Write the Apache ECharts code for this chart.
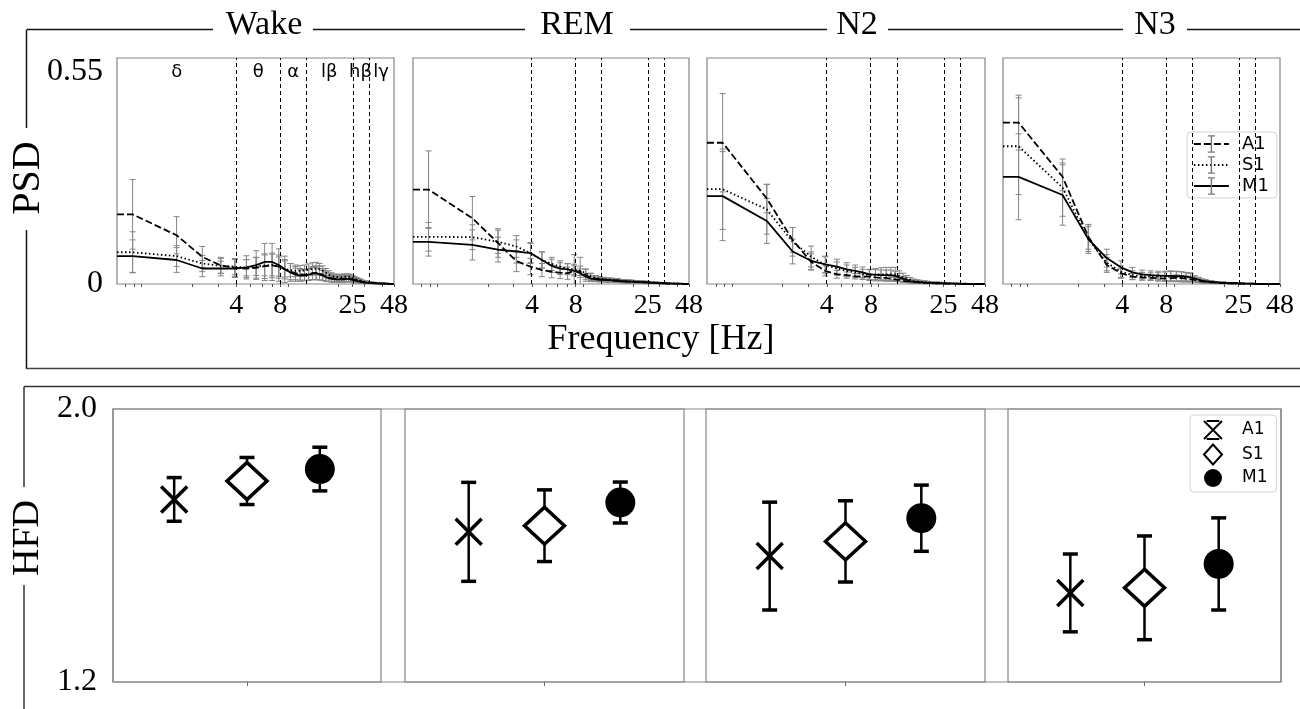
<!DOCTYPE html>
<html><head><meta charset="utf-8">
<script src="https://cdn.jsdelivr.net/npm/echarts@6/dist/echarts.min.js"></script>
<style>html,body{margin:0;padding:0;background:#fff}#c{width:1300px;height:709px}</style>
</head><body><div id="c"></div>
<script>
// ---------------- data ----------------
const stages = ['Wake', 'REM', 'N2', 'N3'];
const groups = ['A1', 'S1', 'M1'];
const freqs = [0.78,1.56,2.34,3.13,3.91,4.69,5.47,6.25,7.03,7.81,
  8.59,9.38,10.16,10.94,11.72,12.5,13.28,14.06,14.84,15.63,
  16.41,17.19,17.97,18.75,19.53,20.31,21.09,21.88,22.66,23.44,
  24.22,25.0,25.78,26.56,27.34,28.13,28.91,29.69,30.47,31.25,
  32.03,32.81,33.59,34.38,35.16,35.94,36.72,37.5,38.28,39.06,
  39.84,40.63,41.41,42.19,42.97,43.75,44.53,45.31,46.09,46.88,47.66];
const xTickLabels = [4, 8, 25, 48];
const xMinorTicks = [0.7, 0.8, 0.9, 2, 3, 4, 5, 6, 7, 8, 9, 20, 25, 30, 40, 48];
const psdTickLabels = [0, 0.55];
const hfdTickLabels = [1.2, 2.0];
const bandNames = ['δ', 'θ', 'α', 'lβ', 'hβ', 'lγ'];
const bandBounds = [0.61, 4, 8, 12, 25, 32, 48];
const bandEdges = [4, 8, 12, 25, 32];

const wakeA1 = [0.180,0.126,0.070,0.048,0.042,0.040,0.042,0.046,0.048,0.045,
 0.038,0.032,0.028,0.025,0.024,0.025,0.028,0.029,0.028,0.024,
 0.020,0.017,0.015,0.014,0.013,0.013,0.013,0.013,0.014,0.014,
 0.013,0.012,0.011,0.010,0.008,0.007,0.006,0.005,0.005,0.004,
 0.004,0.003,0.003,0.003,0.002,0.002,0.002,0.002,0.002,0.001,
 0.001,0.001,0.001,0.001,0.001,0.001,0.001,0.000,0.000,0.000,0.000];
const wakeA1sd = [0.090,0.048,0.027,0.021,0.023,0.023,0.027,0.032,0.032,0.030,
 0.025,0.021,0.017,0.015,0.014,0.015,0.017,0.018,0.017,0.015,
 0.013,0.011,0.010,0.009,0.008,0.008,0.008,0.008,0.008,0.008,
 0.007,0.007,0.006,0.005,0.005,0.004,0.004,0.003,0.003,0.003,
 0.002,0.002,0.002,0.002,0.001,0.001,0.001,0.001,0.001,0.001,
 0.001,0.001,0.001,0.001,0.000,0.000,0.000,0.000,0.000,0.000,0.000];
const wakeS1 = [0.082,0.072,0.053,0.047,0.045,0.042,0.045,0.048,0.049,0.045,
 0.039,0.036,0.034,0.034,0.035,0.037,0.039,0.040,0.038,0.034,
 0.029,0.024,0.021,0.019,0.018,0.018,0.018,0.019,0.019,0.019,
 0.018,0.016,0.014,0.012,0.011,0.009,0.007,0.006,0.005,0.005,
 0.004,0.004,0.003,0.003,0.003,0.002,0.002,0.002,0.002,0.001,
 0.001,0.001,0.001,0.001,0.001,0.001,0.001,0.001,0.000,0.000,0.000];
const wakeS1sd = [0.053,0.027,0.021,0.019,0.021,0.021,0.023,0.027,0.028,0.025,
 0.021,0.017,0.015,0.014,0.014,0.015,0.016,0.016,0.015,0.013,
 0.011,0.010,0.008,0.007,0.007,0.007,0.007,0.007,0.007,0.007,
 0.007,0.006,0.005,0.005,0.004,0.004,0.003,0.003,0.002,0.002,
 0.002,0.002,0.001,0.001,0.001,0.001,0.001,0.001,0.001,0.001,
 0.000,0.000,0.000,0.000,0.000,0.000,0.000,0.000,0.000,0.000,0.000];
const wakeM1 = [0.072,0.062,0.040,0.040,0.040,0.043,0.049,0.057,0.057,0.049,
 0.038,0.030,0.024,0.022,0.022,0.024,0.027,0.028,0.025,0.022,
 0.018,0.015,0.013,0.012,0.012,0.012,0.012,0.012,0.013,0.013,
 0.012,0.011,0.010,0.008,0.007,0.006,0.005,0.004,0.004,0.003,
 0.003,0.003,0.002,0.002,0.002,0.002,0.001,0.001,0.001,0.001,
 0.001,0.001,0.001,0.001,0.000,0.000,0.000,0.000,0.000,0.000,0.000];
const wakeM1sd = [0.042,0.032,0.021,0.019,0.023,0.030,0.037,0.048,0.048,0.042,
 0.034,0.023,0.017,0.015,0.014,0.015,0.016,0.016,0.015,0.013,
 0.011,0.008,0.007,0.006,0.006,0.006,0.006,0.006,0.007,0.007,
 0.006,0.006,0.005,0.004,0.004,0.003,0.003,0.002,0.002,0.002,
 0.002,0.002,0.001,0.001,0.001,0.001,0.001,0.001,0.001,0.000,
 0.000,0.000,0.000,0.000,0.000,0.000,0.000,0.000,0.000,0.000,0.000];

const remA1 = [0.244,0.170,0.106,0.059,0.045,0.036,0.032,0.029,0.028,0.034,
 0.032,0.023,0.017,0.014,0.012,0.011,0.010,0.010,0.009,0.009,
 0.007,0.007,0.006,0.006,0.006,0.005,0.005,0.005,0.005,0.004,
 0.004,0.004,0.004,0.003,0.003,0.003,0.003,0.002,0.002,0.002,
 0.002,0.002,0.002,0.001,0.001,0.001,0.001,0.001,0.001,0.001,
 0.001,0.001,0.001,0.000,0.000,0.000,0.000,0.000,0.000,0.000,0.000];
const remA1sd = [0.100,0.056,0.037,0.027,0.021,0.017,0.016,0.015,0.016,0.042,
 0.037,0.016,0.011,0.008,0.007,0.006,0.006,0.005,0.005,0.005,
 0.004,0.004,0.004,0.004,0.003,0.003,0.003,0.003,0.003,0.003,
 0.002,0.002,0.002,0.002,0.002,0.002,0.002,0.001,0.001,0.001,
 0.001,0.001,0.001,0.001,0.001,0.001,0.001,0.000,0.000,0.000,
 0.000,0.000,0.000,0.000,0.000,0.000,0.000,0.000,0.000,0.000,0.000];
const remS1 = [0.122,0.121,0.109,0.097,0.080,0.062,0.052,0.045,0.040,0.038,
 0.034,0.028,0.020,0.016,0.014,0.012,0.011,0.011,0.010,0.010,
 0.008,0.008,0.007,0.007,0.007,0.006,0.006,0.006,0.005,0.005,
 0.005,0.005,0.004,0.004,0.004,0.003,0.003,0.003,0.003,0.002,
 0.002,0.002,0.002,0.002,0.001,0.001,0.001,0.001,0.001,0.001,
 0.001,0.001,0.001,0.001,0.000,0.000,0.000,0.000,0.000,0.000,0.000];
const remS1sd = [0.037,0.032,0.030,0.028,0.025,0.021,0.017,0.015,0.013,0.013,
 0.012,0.010,0.007,0.006,0.005,0.005,0.004,0.004,0.004,0.004,
 0.003,0.003,0.003,0.003,0.003,0.003,0.002,0.002,0.002,0.002,
 0.002,0.002,0.002,0.002,0.002,0.001,0.001,0.001,0.001,0.001,
 0.001,0.001,0.001,0.001,0.001,0.000,0.000,0.000,0.000,0.000,
 0.000,0.000,0.000,0.000,0.000,0.000,0.000,0.000,0.000,0.000,0.000];
const remM1 = [0.109,0.101,0.089,0.084,0.080,0.062,0.047,0.040,0.038,0.034,
 0.028,0.019,0.014,0.012,0.011,0.011,0.010,0.010,0.008,0.008,
 0.007,0.007,0.007,0.006,0.006,0.006,0.005,0.005,0.005,0.005,
 0.004,0.004,0.004,0.003,0.003,0.003,0.003,0.002,0.002,0.002,
 0.002,0.002,0.002,0.001,0.001,0.001,0.001,0.001,0.001,0.001,
 0.001,0.001,0.001,0.001,0.000,0.000,0.000,0.000,0.000,0.000,0.000];
const remM1sd = [0.037,0.039,0.032,0.030,0.027,0.021,0.017,0.015,0.014,0.013,
 0.011,0.007,0.005,0.005,0.004,0.004,0.004,0.004,0.003,0.003,
 0.003,0.003,0.003,0.003,0.002,0.002,0.002,0.002,0.002,0.002,
 0.002,0.002,0.002,0.001,0.001,0.001,0.001,0.001,0.001,0.001,
 0.001,0.001,0.001,0.000,0.000,0.000,0.000,0.000,0.000,0.000,
 0.000,0.000,0.000,0.000,0.000,0.000,0.000,0.000,0.000,0.000,0.000];

const n2A1 = [0.365,0.221,0.114,0.057,0.034,0.025,0.023,0.020,0.019,0.019,
 0.017,0.016,0.016,0.014,0.012,0.011,0.008,0.007,0.006,0.005,
 0.005,0.004,0.004,0.003,0.003,0.003,0.003,0.002,0.002,0.002,
 0.002,0.002,0.002,0.001,0.001,0.001,0.001,0.001,0.001,0.001,
 0.001,0.001,0.001,0.001,0.001,0.000,0.000,0.000,0.000,0.000,
 0.000,0.000,0.000,0.000,0.000,0.000,0.000,0.000,0.000,0.000,0.000];
const n2A1sd = [0.127,0.037,0.032,0.021,0.013,0.010,0.008,0.007,0.007,0.007,
 0.007,0.006,0.006,0.006,0.005,0.005,0.004,0.003,0.003,0.003,
 0.002,0.002,0.002,0.002,0.002,0.001,0.001,0.001,0.001,0.001,
 0.001,0.001,0.001,0.001,0.001,0.001,0.000,0.000,0.000,0.000,
 0.000,0.000,0.000,0.000,0.000,0.000,0.000,0.000,0.000,0.000,
 0.000,0.000,0.000,0.000,0.000,0.000,0.000,0.000,0.000,0.000,0.000];
const n2S1 = [0.245,0.193,0.109,0.071,0.049,0.040,0.034,0.030,0.025,0.023,
 0.024,0.025,0.025,0.025,0.025,0.020,0.017,0.014,0.011,0.008,
 0.007,0.006,0.005,0.005,0.004,0.004,0.003,0.003,0.003,0.003,
 0.002,0.002,0.002,0.002,0.002,0.001,0.001,0.001,0.001,0.001,
 0.001,0.001,0.001,0.001,0.001,0.001,0.000,0.000,0.000,0.000,
 0.000,0.000,0.000,0.000,0.000,0.000,0.000,0.000,0.000,0.000,0.000];
const n2S1sd = [0.104,0.064,0.037,0.027,0.021,0.017,0.015,0.013,0.013,0.014,
 0.016,0.017,0.018,0.018,0.018,0.014,0.011,0.008,0.006,0.005,
 0.004,0.004,0.003,0.003,0.003,0.002,0.002,0.002,0.002,0.002,
 0.001,0.001,0.001,0.001,0.001,0.001,0.001,0.000,0.000,0.000,
 0.000,0.000,0.000,0.000,0.000,0.000,0.000,0.000,0.000,0.000,
 0.000,0.000,0.000,0.000,0.000,0.000,0.000,0.000,0.000,0.000,0.000];
const n2M1 = [0.227,0.163,0.084,0.060,0.051,0.045,0.038,0.034,0.030,0.025,
 0.024,0.023,0.023,0.023,0.021,0.017,0.013,0.011,0.007,0.006,
 0.005,0.004,0.004,0.003,0.003,0.003,0.002,0.002,0.002,0.002,
 0.002,0.001,0.001,0.001,0.001,0.001,0.001,0.001,0.001,0.001,
 0.000,0.000,0.000,0.000,0.000,0.000,0.000,0.000,0.000,0.000,
 0.000,0.000,0.000,0.000,0.000,0.000,0.000,0.000,0.000,0.000,0.000];
const n2M1sd = [0.115,0.058,0.032,0.023,0.021,0.019,0.017,0.015,0.014,0.013,
 0.013,0.013,0.013,0.013,0.012,0.010,0.007,0.006,0.004,0.004,
 0.003,0.003,0.002,0.002,0.002,0.002,0.001,0.001,0.001,0.001,
 0.001,0.001,0.001,0.001,0.000,0.000,0.000,0.000,0.000,0.000,
 0.000,0.000,0.000,0.000,0.000,0.000,0.000,0.000,0.000,0.000,
 0.000,0.000,0.000,0.000,0.000,0.000,0.000,0.000,0.000,0.000,0.000];

const n3A1 = [0.417,0.277,0.122,0.049,0.028,0.019,0.017,0.016,0.015,0.014,
 0.015,0.016,0.015,0.014,0.012,0.011,0.008,0.007,0.006,0.005,
 0.004,0.004,0.003,0.003,0.003,0.003,0.002,0.002,0.002,0.002,
 0.002,0.002,0.001,0.001,0.001,0.001,0.001,0.001,0.001,0.001,
 0.001,0.000,0.000,0.000,0.000,0.000,0.000,0.000,0.000,0.000,
 0.000,0.000,0.000,0.000,0.000,0.000,0.000,0.000,0.000,0.000,0.000];
const n3A1sd = [0.071,0.036,0.032,0.019,0.013,0.008,0.007,0.007,0.007,0.007,
 0.007,0.008,0.007,0.007,0.006,0.005,0.004,0.004,0.003,0.003,
 0.002,0.002,0.002,0.002,0.002,0.001,0.001,0.001,0.001,0.001,
 0.001,0.001,0.001,0.001,0.000,0.000,0.000,0.000,0.000,0.000,
 0.000,0.000,0.000,0.000,0.000,0.000,0.000,0.000,0.000,0.000,
 0.000,0.000,0.000,0.000,0.000,0.000,0.000,0.000,0.000,0.000,0.000];
const n3S1 = [0.356,0.249,0.116,0.055,0.032,0.023,0.020,0.019,0.019,0.019,
 0.019,0.019,0.018,0.017,0.017,0.013,0.011,0.008,0.007,0.006,
 0.005,0.004,0.004,0.003,0.003,0.003,0.002,0.002,0.002,0.002,
 0.002,0.001,0.001,0.001,0.001,0.001,0.001,0.001,0.001,0.001,
 0.000,0.000,0.000,0.000,0.000,0.000,0.000,0.000,0.000,0.000,
 0.000,0.000,0.000,0.000,0.000,0.000,0.000,0.000,0.000,0.000,0.000];
const n3S1sd = [0.125,0.074,0.032,0.021,0.015,0.011,0.010,0.010,0.011,0.012,
 0.013,0.013,0.013,0.012,0.012,0.008,0.006,0.005,0.004,0.003,
 0.003,0.002,0.002,0.002,0.002,0.001,0.001,0.001,0.001,0.001,
 0.001,0.001,0.001,0.000,0.000,0.000,0.000,0.000,0.000,0.000,
 0.000,0.000,0.000,0.000,0.000,0.000,0.000,0.000,0.000,0.000,
 0.000,0.000,0.000,0.000,0.000,0.000,0.000,0.000,0.000,0.000,0.000];
const n3M1 = [0.277,0.230,0.116,0.067,0.043,0.030,0.025,0.023,0.022,0.021,
 0.021,0.020,0.020,0.019,0.017,0.014,0.011,0.008,0.007,0.006,
 0.005,0.004,0.004,0.003,0.003,0.003,0.002,0.002,0.002,0.002,
 0.002,0.001,0.001,0.001,0.001,0.001,0.001,0.001,0.001,0.001,
 0.000,0.000,0.000,0.000,0.000,0.000,0.000,0.000,0.000,0.000,
 0.000,0.000,0.000,0.000,0.000,0.000,0.000,0.000,0.000,0.000,0.000];
const n3M1sd = [0.111,0.078,0.037,0.023,0.017,0.013,0.011,0.011,0.011,0.012,
 0.013,0.013,0.012,0.011,0.010,0.007,0.006,0.005,0.004,0.003,
 0.003,0.002,0.002,0.002,0.002,0.001,0.001,0.001,0.001,0.001,
 0.001,0.001,0.001,0.000,0.000,0.000,0.000,0.000,0.000,0.000,
 0.000,0.000,0.000,0.000,0.000,0.000,0.000,0.000,0.000,0.000,
 0.000,0.000,0.000,0.000,0.000,0.000,0.000,0.000,0.000,0.000,0.000];

// HFD per stage (Wake, REM, N2, N3)
const hfdA1 = [1.735, 1.640, 1.569, 1.461];
const hfdA1Err = [0.064, 0.145, 0.158, 0.114];
const hfdS1 = [1.789, 1.658, 1.612, 1.476];
const hfdS1Err = [0.069, 0.105, 0.119, 0.152];
const hfdM1 = [1.824, 1.726, 1.680, 1.546];
const hfdM1Err = [0.064, 0.060, 0.097, 0.135];
const hfdPos = [-1, 0, 1];

// ---------------- build ----------------
const psdMean = [[wakeA1, wakeS1, wakeM1], [remA1, remS1, remM1], [n2A1, n2S1, n2M1], [n3A1, n3S1, n3M1]];
const psdSd = [[wakeA1sd, wakeS1sd, wakeM1sd], [remA1sd, remS1sd, remM1sd], [n2A1sd, n2S1sd, n2M1sd], [n3A1sd, n3S1sd, n3M1sd]];
const hfdMean = [hfdA1, hfdS1, hfdM1];
const hfdErr = [hfdA1Err, hfdS1Err, hfdM1Err];

const SERIF = "'Liberation Serif','Times New Roman',serif";
const SANS = "'DejaVu Sans',sans-serif";
const lx = f => Math.log10(f);
const X_MIN = 0.61, X_MAX = 48, PSD_MAX = 0.584;
const topBoxes = [[117, 277], [413, 276], [707, 278], [1003, 277]];
const botBoxes = [[113, 268], [405, 279], [706, 279], [1008, 273]];
const dashes = [[7, 3], [1.5, 2.5], 'solid'];
const EB_ICON = 'path://M0,0M10,10M3,0h4v0.7h-4zM4.6,0h0.8v10h-0.8zM3,9.3h4v0.7h-4z';

function errBar(capW, lw, color, capLw) {
  return function (params, api) {
    const x = api.value(0), y = api.value(1), e = api.value(2);
    const a = api.coord([x, y + e]), b = api.coord([x, y - e]);
    const h = capW / 2;
    const st = { stroke: color, lineWidth: lw };
    const cs = { stroke: color, lineWidth: capLw };
    return { type: 'group', children: [
      { type: 'line', shape: { x1: a[0], y1: a[1], x2: b[0], y2: b[1] }, style: st },
      { type: 'line', shape: { x1: a[0] - h, y1: a[1], x2: a[0] + h, y2: a[1] }, style: cs },
      { type: 'line', shape: { x1: b[0] - h, y1: b[1], x2: b[0] + h, y2: b[1] }, style: cs }
    ] };
  };
}

const grid = [], xAxis = [], yAxis = [], series = [];
topBoxes.forEach(([l, w], i) => {
  grid.push({ left: l, top: 58, width: w, height: 226, show: true, borderColor: '#858585', borderWidth: 1.2, containLabel: false, outerBoundsMode: 'none' });
  xAxis.push({ type: 'value', gridIndex: i, min: lx(X_MIN), max: lx(X_MAX),
    axisLine: { show: false }, splitLine: { show: false },
    axisTick: { show: true, customValues: xMinorTicks.map(lx), length: 3, lineStyle: { color: '#555' } },
    axisLabel: { customValues: xTickLabels.map(lx), formatter: v => String(Math.round(Math.pow(10, v))),
      fontFamily: SERIF, fontSize: 28, color: '#000', margin: 8 } });
  yAxis.push({ type: 'value', gridIndex: i, min: 0, max: PSD_MAX,
    axisLine: { show: false }, axisTick: { show: false }, splitLine: { show: false },
    axisLabel: { show: i === 0, customValues: psdTickLabels, formatter: v => (v === 0 ? '0' : v.toFixed(2)),
      fontFamily: SERIF, fontSize: 32, color: '#000', margin: 14 } });
});
botBoxes.forEach(([l, w], i) => {
  grid.push({ left: l, top: 409, width: w, height: 273, show: true, borderColor: '#858585', borderWidth: 1.2, containLabel: false, outerBoundsMode: 'none' });
  xAxis.push({ type: 'value', gridIndex: 4 + i, min: -1.84, max: 1.84,
    axisLine: { show: false }, splitLine: { show: false },
    axisTick: { show: true, customValues: [0], length: 4, lineStyle: { color: '#666' } },
    axisLabel: { show: false } });
  yAxis.push({ type: 'value', gridIndex: 4 + i, min: 1.2, max: 2.0,
    axisLine: { show: false }, axisTick: { show: false }, splitLine: { show: false },
    axisLabel: { show: i === 0, customValues: hfdTickLabels, formatter: v => v.toFixed(1),
      fontFamily: SERIF, fontSize: 32, color: '#000', margin: 16 } });
});
// background frame joining the HFD panels (gap boxes)
grid.push({ left: 113, top: 409, width: 1168, height: 273, show: true, borderColor: '#858585', borderWidth: 1.2, z: 0, containLabel: false, outerBoundsMode: 'none' });
xAxis.push({ type: 'value', gridIndex: 8, show: false, min: 0, max: 1 });
yAxis.push({ type: 'value', gridIndex: 8, show: false, min: 0, max: 1 });

// PSD panels
stages.forEach((st, i) => {
  groups.forEach((g, j) => {
    const mean = psdMean[i][j], sd = psdSd[i][j];
    series.push({ type: 'custom', name: 'err ' + g + ' ' + st, xAxisIndex: i, yAxisIndex: i, clip: true, silent: true, z: 2,
      renderItem: errBar(6, 1, '#858585', 1), encode: { x: 0, y: 1 },
      data: freqs.map((f, k) => [lx(f), mean[k], sd[k]]) });
    // matplotlib clips the f=0 bin to the far left of the log axis -> flat run to the left edge
    const lineData = [[lx(X_MIN), mean[0]]].concat(freqs.map((f, k) => [lx(f), mean[k]]));
    const line = { type: 'line', name: g, xAxisIndex: i, yAxisIndex: i, clip: true, silent: true, z: 3,
      showSymbol: false, symbol: EB_ICON, itemStyle: { color: '#777' },
      lineStyle: { color: '#000', width: 1.8, type: dashes[j] }, data: lineData, animation: false };
    if (j === 2) {
      line.markLine = { silent: true, symbol: ['none', 'none'], label: { show: false },
        lineStyle: { color: '#000', type: [4, 3], width: 1 }, animation: false,
        data: bandEdges.map(e => ({ xAxis: lx(e) })) };
    }
    series.push(line);
  });
});
// band labels on the Wake panel
series.push({ type: 'scatter', name: 'bands', xAxisIndex: 0, yAxisIndex: 0, symbolSize: 0, silent: true, z: 4,
  itemStyle: { opacity: 1 },
  data: bandNames.map((n, b) => [(lx(bandBounds[b]) + lx(bandBounds[b + 1])) / 2, 0.547, n]),
  label: { show: true, position: 'inside', formatter: p => p.value[2], fontFamily: SANS, fontSize: 18, color: '#000', opacity: 1 } });

// HFD panels
const markerSym = ['path://M0,0L10,10M10,0L0,10', 'diamond', 'circle'];
const markerSize = [26, [40, 37], 30];
const markerStyle = [
  { color: 'rgba(0,0,0,0)', borderColor: '#000', borderWidth: 3.5, opacity: 1 },
  { color: '#fff', borderColor: '#000', borderWidth: 3.5, opacity: 1 },
  { color: '#000', opacity: 1 }
];
stages.forEach((st, i) => {
  groups.forEach((g, j) => {
    series.push({ type: 'custom', name: 'hfd err ' + g + ' ' + st, xAxisIndex: 4 + i, yAxisIndex: 4 + i, z: 2, silent: true,
      renderItem: errBar(15, 2.5, '#000', 3.5), encode: { x: 0, y: 1 },
      data: [[hfdPos[j], hfdMean[j][i], hfdErr[j][i]]] });
    series.push({ type: 'scatter', name: g + ' ', xAxisIndex: 4 + i, yAxisIndex: 4 + i, z: 3, silent: true,
      symbol: markerSym[j], symbolSize: markerSize[j], itemStyle: markerStyle[j],
      data: [[hfdPos[j], hfdMean[j][i]]] });
  });
});

// frame lines
const L = (x1, y1, x2, y2, c, w) => ({ type: 'line', silent: true, shape: { x1, y1, x2, y2 }, style: { stroke: c, lineWidth: w } });
const T = (text, x, y, size, rot) => ({ type: 'text', x, y, rotation: rot || 0, silent: true,
  style: { text, fontFamily: SERIF, fontSize: size, fill: '#000', align: 'center', verticalAlign: 'middle', textAlign: 'center', textVerticalAlign: 'middle' } });
const graphic = [
  L(27, 29.5, 213, 29.5, '#111', 1.5), L(313, 29.5, 525, 29.5, '#111', 1.5), L(630, 29.5, 827, 29.5, '#111', 1.5),
  L(888, 29.5, 1123, 29.5, '#111', 1.5), L(1187, 29.5, 1300, 29.5, '#111', 1.5),
  L(26.5, 29.5, 26.5, 128, '#111', 1.5), L(26.5, 230, 26.5, 369, '#111', 1.5),
  L(26.5, 368.5, 1300, 368.5, '#444', 1.5),
  L(24, 386.5, 1300, 386.5, '#333', 1.5),
  L(24, 386.5, 24, 487, '#333', 1.5), L(24, 585, 24, 709, '#333', 1.5),
  T('Wake', 264, 25, 34), T('REM', 577, 25, 34), T('N2', 857, 25, 34), T('N3', 1155, 25, 34),
  T('Frequency [Hz]', 661, 340, 36),
  T('PSD', 28, 178, 40, Math.PI / 2),
  T('HFD', 28, 538, 38, Math.PI / 2)
];

const option = {
  backgroundColor: '#fff',
  animation: false,
  grid, xAxis, yAxis, series, graphic,
  legend: [
    { data: ['A1', 'S1', 'M1'], orient: 'vertical', left: 1187, top: 132, itemWidth: 35, itemHeight: 22, itemGap: 3,
      padding: [3, 8, 3, 6], backgroundColor: 'rgba(255,255,255,0.85)', borderColor: '#d3d3d3', borderWidth: 1, borderRadius: 4,
      selectedMode: false, lineStyle: { width: 1.8 },
      textStyle: { fontFamily: SANS, fontSize: 18, color: '#000', padding: [0, 0, 0, 8] } },
    { data: [
        { name: 'A1 ', icon: 'path://M0,0L10,10M10,0L0,10M1.5,0L8.5,0M1.5,10L8.5,10', itemStyle: { color: 'rgba(0,0,0,0)', borderColor: '#000', borderWidth: 2 } },
        { name: 'S1 ', icon: 'diamond', itemStyle: { color: '#fff', borderColor: '#000', borderWidth: 2 } },
        { name: 'M1 ', icon: 'circle', itemStyle: { color: '#000', borderWidth: 0 } }
      ],
      orient: 'vertical', left: 1190, top: 415, itemWidth: 18, itemHeight: 20, itemGap: 3.5,
      padding: [5, 9, 5, 13], backgroundColor: 'rgba(255,255,255,0.85)', borderColor: '#d3d3d3', borderWidth: 1, borderRadius: 4,
      selectedMode: false, formatter: n => n.trim(),
      textStyle: { fontFamily: SANS, fontSize: 17, color: '#000', padding: [0, 0, 0, 15] } }
  ]
};
const chart = echarts.init(document.getElementById('c'), null, { renderer: 'canvas' });
chart.setOption(option);
</script>
</body></html>
